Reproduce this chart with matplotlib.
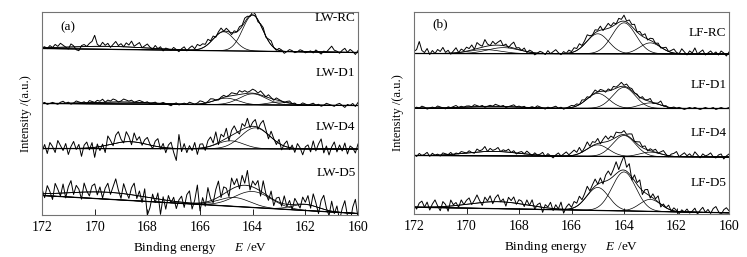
import numpy as np
import matplotlib
matplotlib.use("Agg")
from matplotlib import pyplot as plt

plt.rcParams["font.family"] = "Liberation Serif"
plt.rcParams["mathtext.fontset"] = "custom"
plt.rcParams["mathtext.rm"] = "Liberation Serif"
plt.rcParams["mathtext.it"] = "Liberation Serif:italic"

# binding energy grid of the raw scans, 0.1 eV step, 172 -> 160 eV
energy = np.arange(1720, 1599, -1) / 10.0
energy_fit = np.linspace(172, 160, 601)

# every intensity below is in plot units (one unit ~ one pixel of the figure)
# background line: value at 172 eV, value at 160 eV
# peaks: (centre eV, height, sigma eV)
# noise: raw counts minus fitted envelope, 121 points from 172 to 160 eV

LW_RC_BG = [166, 162]
LW_RC_PEAKS = [(164.0, 36, 0.38), (165.1, 19, 0.40), (169.5, 3, 1.5)]
LW_RC_NOISE = [0, 1, -1, 2, 0, 3, 1, 4, 2, 0, -2, 3, 1, -3, -4, 1, 2, 0, 3, 5, 11,
               2, 0, 4, 1, 3, -1, 2, 5, 1, 3, 0, 4, 2, 6, 1, 3, 5, 0, 2, 4,
               1, -1, 3, 0, 2, -2, 1, 0, -1, 2, 0, -2, 1, 3, -1, 2, 4, 1, 5, 3,
               4, 2, 5, 1, 3, -1, 2, 4, 0, 3, 1, -2, 2, 0, 3, 1, 4, 2, -1, 3,
               2, -2, 1, 3, -1, 2, 4, 0, -1, 2, 1, -2, 0, 2, 1, -1, 0, 2, 1, -1,
               0, 1, -1, 2, 0, -2, 1, 0, 3, 6, 2, 1, -1, 2, 4, 0, 3, 1, -2, 2]

LW_D1_BG = [111, 109]
LW_D1_PEAKS = [(164.0, 11, 0.5), (165.0, 6.5, 0.45), (163.0, 3, 0.4), (169.0, 2, 1.2)]
LW_D1_NOISE = [0, 1, -1, 0, 1, 0, -1, 1, 2, 0, 1, -1, 0, 2, 1, 0, 1, -1, 2, 1, 0,
               2, 1, 3, 0, 2, 1, 3, 2, 0, 1, 3, 2, 1, 2, 0, 1, 2, 1, 0, 1,
               -1, 0, 1, -1, 0, 1, 0, -1, -2, 0, 1, -1, 0, 1, 0, 2, 1, 0, 1, 3,
               2, 0, 1, 3, 2, 0, -1, 1, 2, 0, 1, 3, 2, 1, 4, 2, 3, 1, 2, 4,
               3, 1, 4, 2, 0, 3, 1, -1, 2, 1, 0, -1, 1, 2, 0, 1, -1, 0, 2, 1,
               0, 1, 2, 0, 1, -1, 0, 2, 1, 0, -1, 1, 2, 0, -2, 1, 0, 2, -1, 3]

LW_D4_BG = [66, 65.5]
LW_D4_PEAKS = [(163.9, 21, 0.55), (164.85, 8, 0.5), (168.7, 7, 0.7)]
LW_D4_NOISE = [-3, 4, -5, 6, 2, -4, 8, 3, -2, 5, -6, 2, 7, -1, 4, -8, 3, 6, -2, 5, -10,
               3, -4, 2, -7, 9, 4, -2, 8, 11, 3, -1, 10, 5, -3, 9, 2, 6, -2, 4, 7,
               1, -3, 5, 8, -2, 4, -5, 3, 6, -4, -12, 14, -3, 5, -4, 3, -2, 6, -6, 4,
               4, -3, 6, 9, 2, 12, -2, 7, 3, 10, -4, 5, 8, 1, -3, 6, 2, 9, -1, 4,
               7, -2, 5, 10, 3, -4, 6, 1, -3, 4, -5, 2, 6, -2, 3, -4, 5, 1, -6, 2,
               4, -3, 8, -2, 5, 10, -4, 3, -6, 2, 7, -3, 4, -2, 6, -5, 3, 1, -4, 5]

LW_D5_BG = [19, 1]
LW_D5_PEAKS = [(169.5, 7, 1.5), (164.7, 9, 0.6), (164.0, 16, 0.7), (162.0, 6, 0.5)]
LW_D5_NOISE = [5, -4, 8, 2, -6, 10, 4, -3, 9, -5, 6, 12, -2, 7, 3, -7, 9, 1, -4, 6, 8,
               -3, 5, -6, 4, 9, -2, 6, 14, 3, -5, 10, 2, -4, 7, 12, -3, 5, -6, 8, -18,
               -10, 4, -4, 6, -15, 3, -9, 5, -2, 4, -7, 2, 6, -5, 8, 12, -6, 3, 18, -8,
               5, -4, 14, 2, -3, 9, 16, -2, 7, 4, -6, 11, 3, 8, -3, 10, 2, 15, -4, 6,
               3, 9, -5, 12, 1, -4, 7, -6, 3, 5, -3, 8, -2, 4, -5, 6, 1, -4, 7, 2,
               9, -3, 12, 4, -6, 8, 14, 2, -5, 10, -2, 6, -8, 4, 12, -3, -10, 6, 14, -4]

LF_RC_BG = [160, 159.5]
LF_RC_PEAKS = [(164.0, 31, 0.45), (165.0, 20, 0.42), (163.0, 11, 0.4),
               (168.6, 6, 0.6), (169.3, 4, 0.6)]
LF_RC_NOISE = [2, 4, 12, 3, 1, 5, -1, 3, 0, 4, 2, 6, 1, 3, -1, 2, 5, 0, 3, 1, 4,
               2, 5, 0, 6, 3, 1, 7, 2, 0, 4, 1, 3, 5, 0, 2, -1, 3, 6, 1, 2,
               0, 3, -1, 2, 1, -2, 0, 2, 1, -1, 3, 0, 2, 4, 1, -1, 2, 0, 3, 1,
               4, 2, 5, 1, 3, 6, 2, 0, 3, 1, 4, -1, 2, 5, 1, 3, 0, 4, 2, 6,
               1, 4, 2, 5, 0, 3, 1, 4, -1, 2, 3, 0, 2, -1, 1, 3, 0, 2, 4, 1,
               0, 5, 2, -1, 3, 1, 6, 0, 2, 4, -1, 1, 3, 0, 2, -1, 3, 1, -2, 2]

LF_D1_BG = [105.3, 105]
LF_D1_PEAKS = [(164.0, 21, 0.43), (165.0, 15, 0.42), (163.0, 5.5, 0.4), (169.0, 2, 1.0)]
LF_D1_NOISE = [0, 1, 0, 2, 1, -1, 0, 1, 0, 2, 1, 0, -1, 1, 0, 1, 2, 0, 1, 0, 1,
               1, 0, 2, 1, 0, 1, -1, 0, 1, 0, 2, 1, 0, 1, -1, 0, 1, 2, 0, 1,
               0, 1, -1, 0, 1, 0, 2, 1, 0, -1, 1, 0, 1, 2, 0, 1, -1, 0, 1, 2,
               1, 2, 0, 3, 1, 2, -1, 1, 3, 0, 2, 1, -1, 2, 0, 3, 1, 2, 4, 1,
               3, 1, 2, 0, 1, -1, 2, 0, 1, 3, -1, 0, 1, 4, 0, 1, -1, 0, 1, 0,
               1, 0, -1, 0, 1, 0, 1, 0, -1, 0, 1, 0, 0, 1, -1, 0, 1, 0, 0, 1]

LF_D4_BG = [58, 56.5]
LF_D4_PEAKS = [(164.0, 21, 0.43), (165.0, 11.5, 0.42), (163.0, 4.5, 0.4), (169.0, 4.5, 1.0)]
LF_D4_NOISE = [1, -1, 2, 0, 1, 3, -1, 2, 0, 1, -1, 2, 1, 0, 2, -1, 1, 0, 2, 1, 0,
               2, 0, -1, 3, 1, 2, 5, 0, 3, 1, 2, 4, 0, 2, 1, 3, 0, 2, -1, 1,
               2, 0, 3, 1, -1, 2, 0, 1, 3, -1, 2, 0, -2, 1, 3, 0, 2, 4, 1, 3,
               5, 2, 6, 0, 3, 7, 1, 4, 2, 5, -1, 3, 6, 2, 4, 1, 5, 3, 2, 4,
               1, 3, 5, 0, 2, 4, 1, 3, -1, 2, 1, 3, 0, 2, 4, 1, -1, 2, 3, 5,
               0, 2, 4, 1, 3, 0, 5, 2, -1, 3, 1, 2, 4, 0, -1, 2, 3, -2, 1, 3]

LF_D5_BG = [6.3, 0.7]
LF_D5_PEAKS = [(164.0, 39, 0.45), (165.0, 23, 0.42), (163.0, 12, 0.4), (168.8, 7, 1.1)]
LF_D5_NOISE = [2, -2, 4, 6, 0, 5, -3, 3, 7, 1, -4, 5, 2, -5, 6, 1, 3, -2, 5, 0, 4,
               6, -1, 3, 8, 2, -3, 5, 1, 6, -2, 4, 7, 0, 3, -4, 5, 2, 6, -1, 4,
               3, -2, 5, 0, 6, -3, 2, 4, -5, 3, 1, 6, -2, 4, 0, 7, -4, 2, 5, 1,
               6, 3, 8, 2, 5, 9, 1, 4, 7, 0, 5, -2, 6, 9, 3, 7, 12, 2, 8, 14,
               4, 10, -3, 6, 2, 8, -4, 3, 5, -2, 4, 1, 6, -3, 2, 0, 4, -1, 3, 1,
               -2, 2, 0, 3, -1, 1, 4, -2, 2, 5, 0, 3, -1, 4, 6, 1, -2, 3, 5, 2]

# (name, background, peaks, noise, label height)
panel_a = [("LW-RC", LW_RC_BG, LW_RC_PEAKS, LW_RC_NOISE, 197),
           ("LW-D1", LW_D1_BG, LW_D1_PEAKS, LW_D1_NOISE, 142),
           ("LW-D4", LW_D4_BG, LW_D4_PEAKS, LW_D4_NOISE, 88),
           ("LW-D5", LW_D5_BG, LW_D5_PEAKS, LW_D5_NOISE, 41)]
panel_b = [("LF-RC", LF_RC_BG, LF_RC_PEAKS, LF_RC_NOISE, 181),
           ("LF-D1", LF_D1_BG, LF_D1_PEAKS, LF_D1_NOISE, 128),
           ("LF-D4", LF_D4_BG, LF_D4_PEAKS, LF_D4_NOISE, 81),
           ("LF-D5", LF_D5_BG, LF_D5_PEAKS, LF_D5_NOISE, 31)]


def background(x, bg):
    return np.interp(x, [160, 172], [bg[1], bg[0]])


def gauss(x, c, h, s):
    return h * np.exp(-0.5 * ((x - c) / s) ** 2)


def envelope(x, bg, peaks):
    return background(x, bg) + sum(gauss(x, *p) for p in peaks)


def draw_panel(ax, spectra, tag, ytop):
    for name, bg, peaks, noise, ylab in spectra:
        raw = envelope(energy, bg, peaks) + np.array(noise)
        base = background(energy_fit, bg)
        ax.plot(energy, raw, color="k", lw=0.7)
        for p in peaks:
            ax.plot(energy_fit, base + gauss(energy_fit, *p), color="k", lw=0.5)
        ax.plot(energy_fit, envelope(energy_fit, bg, peaks), color="k", lw=0.6)
        ax.plot(energy_fit, base, color="k", lw=0.9)
        ax.text(160.1, ylab, name, ha="right", va="center", fontsize=9.5)
    ax.text(171.3, ytop, tag, ha="left", va="center", fontsize=9.5)
    ax.set_xlim(172, 160)
    ax.set_xticks(range(172, 159, -2))
    ax.set_yticks([])
    ax.tick_params(axis="x", direction="in", length=4, width=0.6, labelsize=10, pad=5)
    for sp in ax.spines.values():
        sp.set_color("0.45")
        sp.set_linewidth(0.8)
    ax.set_xlabel("Binding energy      $E$ /eV", fontsize=9.5, labelpad=4)
    ax.set_ylabel("Intensity /(a.u.)", fontsize=9, labelpad=7)


fig = plt.figure(figsize=(7.47, 2.57), dpi=100)
ax_a = fig.add_axes([42 / 747, 1 - 214.5 / 257, 316 / 747, 202.5 / 257])
ax_b = fig.add_axes([414 / 747, 1 - 213.5 / 257, 315 / 747, 201.5 / 257])

draw_panel(ax_a, panel_a, "(a)", 187)
ax_a.set_ylim(0, 202.5)
draw_panel(ax_b, panel_b, "(b)", 189)
ax_b.set_ylim(0, 201.5)

fig.savefig("out.png", dpi=100)
